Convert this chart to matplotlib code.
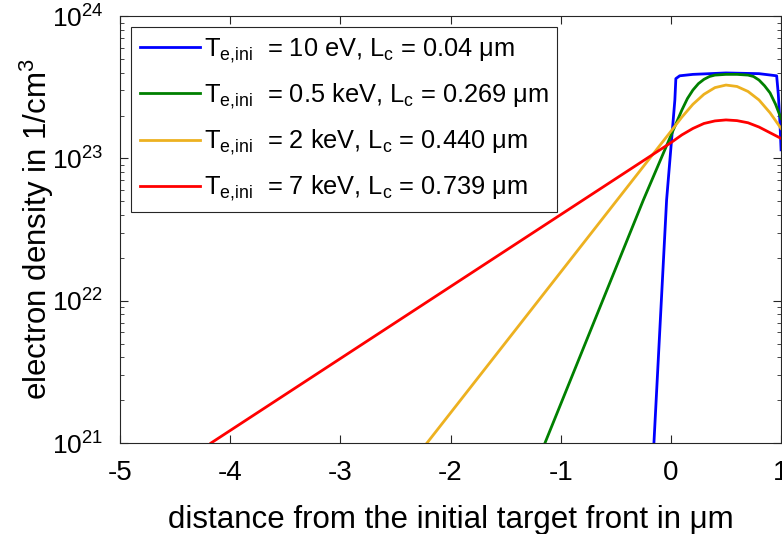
import matplotlib
matplotlib.use('Agg')
from matplotlib import pyplot as plt
import numpy as np

plt.rcParams['font.family'] = ['Liberation Sans', 'DejaVu Sans']
plt.rcParams['mathtext.fontset'] = 'custom'
plt.rcParams['mathtext.rm'] = 'Liberation Sans'
plt.rcParams['mathtext.it'] = 'Liberation Sans:italic'
plt.rcParams['mathtext.default'] = 'regular'
plt.rcParams['axes.unicode_minus'] = False

# curves: x in um, log10 of electron density in 1/cm^3
x_10ev = [-0.154, -0.039, 0.036, 0.045, 0.08, 0.2, 0.5, 0.8, 0.96, 0.975, 0.99, 1.0]
n_10ev = [21.0, 22.707, 23.41, 23.56, 23.58, 23.59, 23.60, 23.595, 23.58, 23.45, 23.25, 23.06]

x_05kev = [-1.143, -0.25, 0.0, 0.05, 0.1, 0.15, 0.2, 0.25, 0.3, 0.35, 0.4, 0.5, 0.6, 0.7, 0.75, 0.8, 0.85, 0.9, 0.95, 1.0]
n_05kev = [21.0, 22.707, 23.16, 23.25, 23.34, 23.42, 23.48, 23.525, 23.555, 23.575, 23.585, 23.59, 23.59, 23.585, 23.575, 23.55, 23.51, 23.46, 23.38, 23.28]

x_2kev = [-2.214, 0.0, 0.1, 0.2, 0.3, 0.4, 0.5, 0.6, 0.7, 0.8, 0.9, 1.0]
n_2kev = [21.0, 23.19, 23.29, 23.38, 23.45, 23.497, 23.515, 23.505, 23.47, 23.41, 23.32, 23.21]

x_7kev = [-4.174, 0.0, 0.1, 0.2, 0.3, 0.4, 0.5, 0.6, 0.7, 0.8, 0.9, 1.0]
n_7kev = [21.0, 23.11, 23.165, 23.21, 23.245, 23.263, 23.27, 23.265, 23.25, 23.22, 23.18, 23.14]

labels = [
    r'T$_{e{,}ini}$  = 10 eV, L$_c$ = 0.04 μm',
    r'T$_{e{,}ini}$  = 0.5 keV, L$_c$ = 0.269 μm',
    r'T$_{e{,}ini}$  = 2 keV, L$_c$ = 0.440 μm',
    r'T$_{e{,}ini}$  = 7 keV, L$_c$ = 0.739 μm',
]
colors = ['#0000ff', '#008000', '#edb120', '#ff0000']

fig = plt.figure(figsize=(7.82, 5.34), dpi=100)
ax = fig.add_axes([0.1535, 0.1704, 0.8453, 0.7996])
for xs, ns, lab, c in zip([x_10ev, x_05kev, x_2kev, x_7kev],
                          [n_10ev, n_05kev, n_2kev, n_7kev], labels, colors):
    ax.semilogy(xs, 10.0 ** np.array(ns), color=c, lw=2.0, label=lab)

ax.set_xlim(-5, 1)
ax.set_ylim(1e21, 1e24)
ax.set_xticks(range(-5, 2))
ax.tick_params(which='both', direction='in', top=True, right=True, color='#262626')
ax.tick_params(which='major', length=6)
ax.tick_params(which='minor', length=3)
ax.tick_params(axis='x', labelsize=20, pad=12)
ax.tick_params(axis='y', labelsize=19, pad=12)
for s in ax.spines.values():
    s.set_color('#262626')
    s.set_linewidth(0.8)
ax.set_xlabel('distance from the initial target front in μm', fontsize=22.5, labelpad=14)
ax.set_ylabel('electron density in 1/cm$^3$', fontsize=22.5, labelpad=-3)

leg = ax.legend(loc='upper left', fontsize=18.3, handlelength=2.35, handletextpad=0.15,
                labelspacing=0.66, borderpad=0.35, borderaxespad=0.45,
                fancybox=False, framealpha=1, edgecolor='#262626')
leg.get_frame().set_linewidth(0.8)

fig.savefig('out.png', dpi=100)
plt.close(fig)
